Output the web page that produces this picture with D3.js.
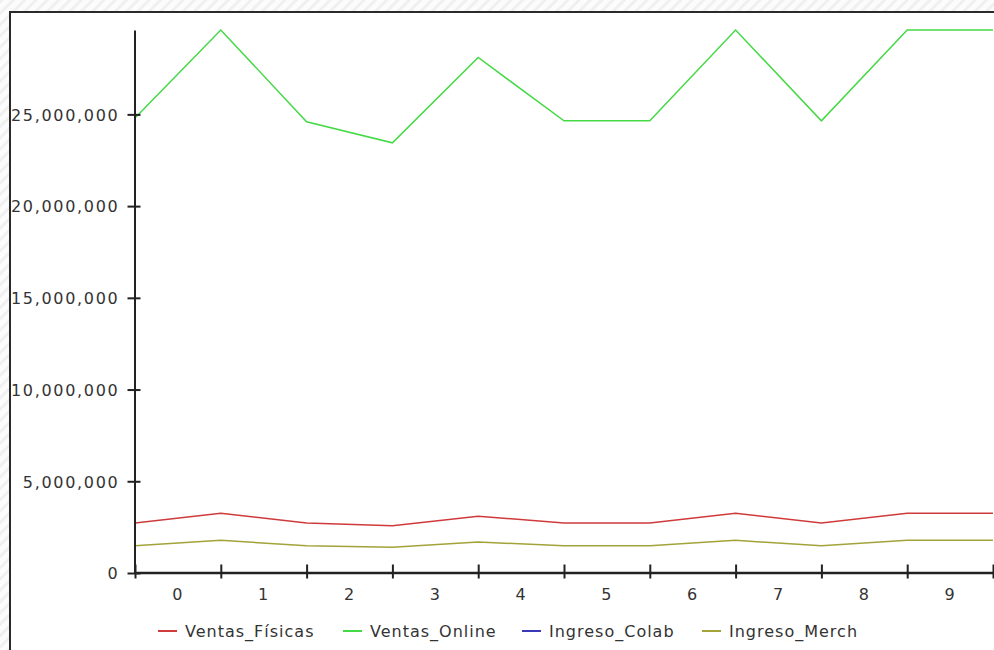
<!DOCTYPE html>
<html>
<head>
<meta charset="utf-8">
<script src="https://cdn.jsdelivr.net/npm/d3@7"></script>
<style>
  html, body { margin: 0; padding: 0; background: #fff; overflow: hidden; }
  svg { display: block; }
  .tick text { font-family: "DejaVu Sans", Verdana, sans-serif; fill: #333; }
</style>
</head>
<body>
<svg id="chart" width="994" height="650"></svg>
<script>
// Category labels shown under the x axis
const categories = ["0", "1", "2", "3", "4", "5", "6", "7", "8", "9"];

// Series values, one per sample row (11 rows)
const ventasFisicas = [2730000, 3260000, 2720000, 2570000, 3100000, 2720000, 2720000, 3260000, 2720000, 3260000, 3260000];
const ventasOnline  = [24800000, 29600000, 24600000, 23450000, 28100000, 24650000, 24650000, 29600000, 24650000, 29600000, 29600000];
const ingresoColab  = [0, 0, 0, 0, 0, 0, 0, 0, 0, 0, 0];
const ingresoMerch  = [1490000, 1780000, 1480000, 1410000, 1690000, 1480000, 1480000, 1780000, 1480000, 1780000, 1780000];

// Y axis tick values
const yTicks = [0, 5000000, 10000000, 15000000, 20000000, 25000000];

const seriesNames  = ["Ventas_Físicas", "Ventas_Online", "Ingreso_Colab", "Ingreso_Merch"];
const seriesValues = [ventasFisicas, ventasOnline, ingresoColab, ingresoMerch];
const seriesColors = ["#cf3b3b", "#45d945", "#3a3ab8", "#a3a33a"];

const svg = d3.select("#chart");

// Hatched backdrop around the panel
const defs = svg.append("defs");
const pat = defs.append("pattern")
  .attr("id", "hatch").attr("patternUnits", "userSpaceOnUse")
  .attr("width", 8).attr("height", 8)
  .attr("patternTransform", "rotate(45)");
pat.append("rect").attr("width", 8).attr("height", 8).attr("fill", "#fcfcfc");
pat.append("rect").attr("width", 3).attr("height", 8).attr("fill", "#f0f0f0");
svg.append("rect").attr("width", 994).attr("height", 650).attr("fill", "url(#hatch)");

// Panel with dark frame
svg.append("rect")
  .attr("x", 10).attr("y", 12).attr("width", 1000).attr("height", 660)
  .attr("fill", "#fff").attr("stroke", "#2a2a2a").attr("stroke-width", 2);

const plotLeft = 135, plotRight = 993, plotTop = 30, plotBottom = 573;
const n = ventasOnline.length;

const x = d3.scaleLinear().domain([0, n - 1]).range([plotLeft, plotRight]);
const allValues = seriesValues.flat();
const y = d3.scaleLinear().domain([0, d3.max(allValues)]).range([plotBottom, plotTop]);

// Lines (drawn first so the axes sit on top)
const line = d3.line().x((d, i) => x(i)).y(d => y(d));
seriesValues.forEach((vals, k) => {
  svg.append("path")
    .datum(vals)
    .attr("fill", "none")
    .attr("stroke", seriesColors[k])
    .attr("stroke-width", 1.5)
    .attr("d", line);
});

// Y axis
const yAxis = svg.append("g")
  .attr("transform", `translate(${plotLeft - 0.5},0)`)
  .call(d3.axisLeft(y).tickValues(yTicks).tickFormat(d3.format(",")).tickSizeInner(7).tickSizeOuter(0).tickPadding(8));
yAxis.select(".domain").attr("stroke", "#222").attr("stroke-width", 2);
yAxis.selectAll(".tick line").attr("x1", 6).attr("x2", -7).attr("stroke", "#222").attr("stroke-width", 2);
yAxis.selectAll(".tick text").style("font-size", "16px").style("letter-spacing", "1.7px").attr("dy", "0.36em");

// X axis: tick marks at every row, labels centred between them
const xAxis = svg.append("g")
  .attr("transform", `translate(0,${plotBottom - 0.5})`)
  .call(d3.axisBottom(x).tickValues(d3.range(n)).tickFormat("").tickSizeOuter(0).tickSizeInner(6));
xAxis.select(".domain").attr("stroke", "#222").attr("stroke-width", 2.5);
xAxis.selectAll(".tick line").attr("y1", -8).attr("y2", 6).attr("stroke", "#222").attr("stroke-width", 2);

const xLabels = svg.append("g")
  .attr("transform", `translate(-1,${plotBottom})`)
  .call(d3.axisBottom(x)
    .tickValues(categories.map((c, i) => i + 0.5))
    .tickFormat((d, i) => categories[i])
    .tickSize(0).tickPadding(16));
xLabels.select(".domain").remove();
xLabels.selectAll(".tick text").style("font-size", "16px").attr("dy", "0.71em");

// Legend
const legendX = [158, 343, 522, 702];
const legend = svg.append("g").attr("transform", "translate(0,631)");
seriesNames.forEach((name, k) => {
  const g = legend.append("g").attr("transform", `translate(${legendX[k]},0)`);
  g.append("line").attr("x1", 0).attr("x2", 19).attr("y1", 0).attr("y2", 0)
    .attr("stroke", seriesColors[k]).attr("stroke-width", 2);
  g.append("text").attr("x", 27).attr("y", 0).attr("dy", "0.36em")
    .style("font-family", "'DejaVu Sans', Verdana, sans-serif")
    .style("font-size", "16px").style("letter-spacing", "1px")
    .attr("fill", "#333").text(name);
});
</script>
</body>
</html>
